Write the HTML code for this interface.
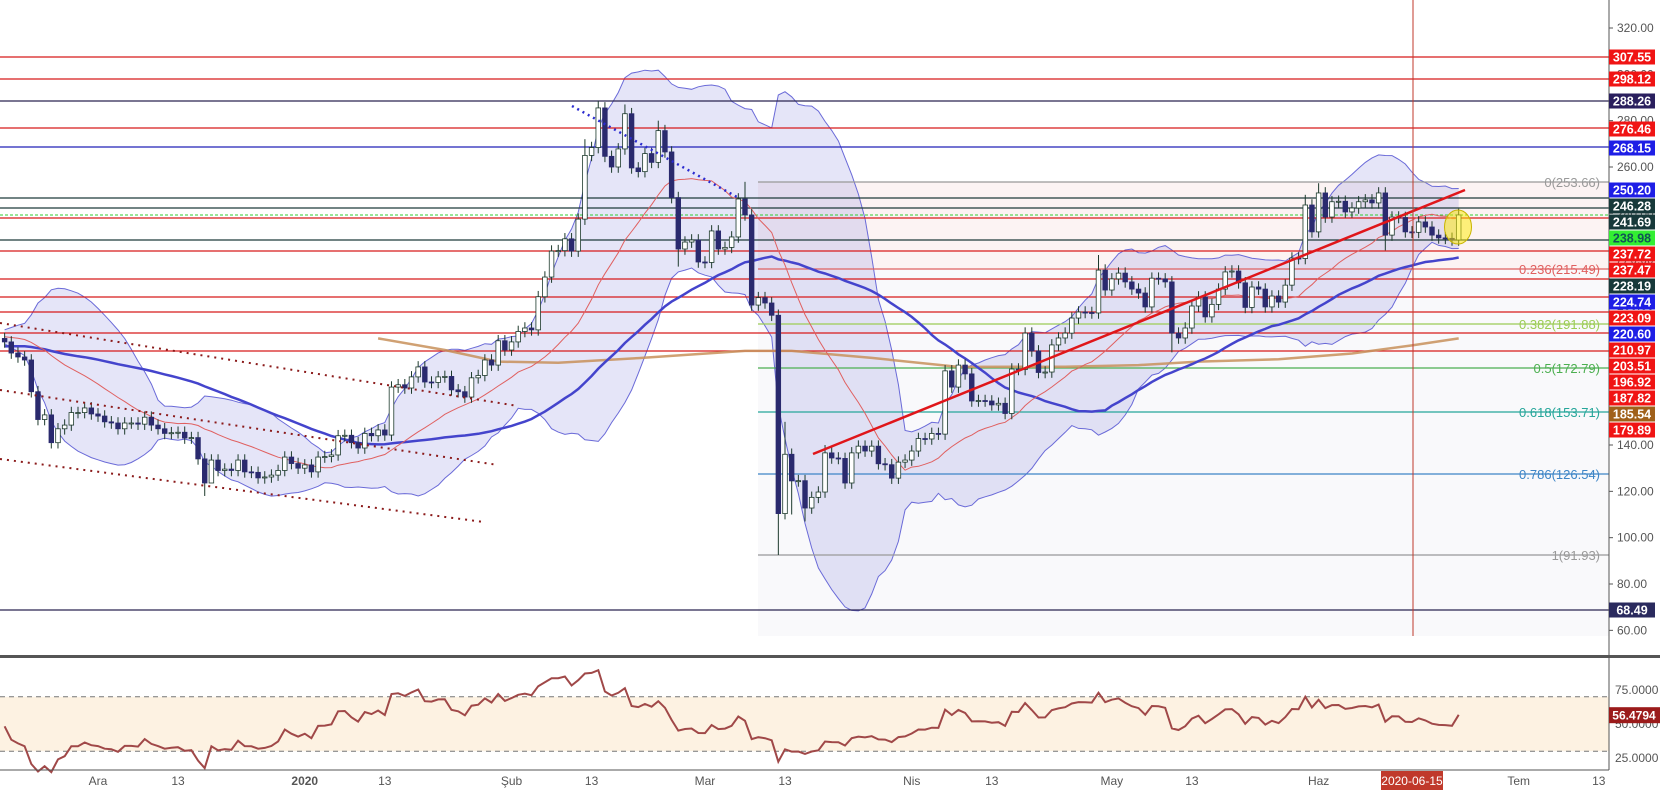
<!DOCTYPE html>
<html><head><meta charset="utf-8">
<style>
html,body{margin:0;padding:0;background:#fff;}
svg{display:block;font-family:"Liberation Sans",sans-serif;}
</style></head>
<body>
<svg id="chart" width="1660" height="790" viewBox="0 0 1660 790" xmlns="http://www.w3.org/2000/svg">
<rect x="0" y="0" width="1660" height="790" fill="#fff"/>
<g id="fibBg">
  <rect x="758" y="182" width="851" height="87" fill="#fbeeee" opacity="0.7"/>
  <rect x="758" y="269" width="851" height="367" fill="#f6f6fa" opacity="0.7"/>
</g>
<g id="bands"></g>
<g id="hlines"></g>
<g id="fib"></g>
<g id="mas"></g>
<g id="candles"></g>
<g id="drawings"></g>
<g id="rsi"></g>
<g id="axes"></g>
</svg>
<script>
// ---- data ----
const preCloses = [176,177,175,178,179,177,176,178,180,181,179,178,177,179,180,182,181,180,178,177,179,181,182,183,181,180,182,184,183,182,184,186,185,187,188,186,185,187,189,188,186,185,187,188,190,189,187,186,185,186];
const firstDay = -14;
const closes = [184.5,179.7,178,176.7,163,151,153,141,147,148.6,154,154,156,153.4,
152.5,150,149.5,147,149.5,149.5,149,152,148.6,147,145,145.3,145.5,143,143.2,134,123.6,133.5,129,129.6,129,133.5,128.4,128.2,125.8,126.2,127,129,134.8,132,130,
131.4,128.4,134.8,135,135.7,144,144.2,141,138.7,145,144,146.5,144.3,165,166,164.6,169.4,173.7,167.2,167,169.4,169.6,163.8,163,160.7,169,170,176.7,174.5,185,181,
184.5,189,190.5,189.7,204,212.5,223.7,223.9,229,223.7,237.5,265,268.4,285.5,264.6,260,267.8,283,259.6,258,265.8,262,275.7,266.5,246.8,224.6,227.6,228.5,219,
218.8,232.4,224.6,225.3,229.8,246.2,239.3,200.4,203.6,201.3,196,110.4,136,124.5,124.6,112.8,117.4,119.7,136.6,134.4,134.2,123.6,136.6,139.5,137.4,139.5,131.9,131.5,125.7,132.6,133.5,
137.4,142.8,142.6,145,144.7,172,165,174.5,170.7,159,159.2,159,157.3,158,153.6,172.8,172.6,188.3,180.6,171.3,171.5,183.2,186.2,188.3,194.8,197.4,197.2,197,215.5,206.9,211.7,214.2,210.4,207.3,205.6,
199.6,212,211.7,210.4,188.3,186.2,190.5,200,203.9,195.3,200.7,207.3,214.7,215.1,210,199.4,208.2,207.3,199.6,204.3,201.7,209,220.7,220.5,243.6,232,
248.8,238.4,245,245.2,240.6,242.3,245,245.8,244.5,248.8,230.6,238.4,238.2,232,231.8,236.3,234.1,230.6,229.4,229.2,228.5,239.3];
const wickHigh = {75:288.5,73:272,79:287,97:253.6,84:280,103:150,109:140,150:222,183:253,181:248,204:242};
const wickLow = {102:92.5,104:110,16:118,17:124,106:107,161:180,87:217,193:224};
const maLongDays = [42,52,60,69,81,97,104,116,129,145,156,165,177,188,197,204];
const maLongVals = [186,181,176,175.5,177.5,180.6,180.6,177.6,173.7,173.8,174.5,176,177,179.5,183,186];
const priceTicks = [320,300,280,260,240,220,200,180,160,140,120,100,80,60];
const rsiTicks = [75,50,25];
const timeLabelDays = [0,12,31,43,62,74,91,103,122,134,152,164,183,197,213,225];
const timeLabels = ["Ara","13","2020","13","Şub","13","Mar","13","Nis","13","May","13","Haz","2020-06-15","Tem","13"];
const levelYs = [57,79,101,128,147,198,208,218,240,251,279,297,312,333,351,610];
const levelColors = ["#d81b1b","#d81b1b","#2a2550","#d81b1b","#2020b8","#1e3a3a","#1e3a3a","#d81b1b","#1e3a3a","#d81b1b","#d81b1b","#d81b1b","#d81b1b","#d81b1b","#d81b1b","#2a2550"];
const tagLabels = ["307.55","298.12","288.26","276.46","268.15","250.20","246.28","241.69","238.98","237.72","237.47","228.19","224.74","223.09","220.60","210.97","203.51","196.92","187.82","185.54","179.89","68.49"];
const tagYs = [57,79,101,129,148,190,206,222,238,254,270,286,302,318,334,350,366,382,398,414,430,610];
const tagColors = ["#f01414","#f01414","#2a1f5e","#f01414","#1e1ee6","#1e1ee6","#17393a","#17393a","#33ee33","#f01414","#f01414","#17393a","#1e1ee6","#f01414","#1e1ee6","#f01414","#f01414","#f01414","#f01414","#a0601a","#f01414","#2a2a5e"];
const fibLevels = ["0","0.236","0.382","0.5","0.618","0.786","1"];
const fibPrices = [253.66,215.49,191.88,172.79,153.71,126.54,91.93];
const fibYs = [182,269,324,368,412,474,555];
const fibColors = ["#999","#e06060","#9ccc55","#4caf50","#26a69a","#3d85c6","#999"];

// ---- scales ----
const NS="http://www.w3.org/2000/svg";
const xOf = d => 98 + d*6.67;
const yOf = p => 28 + (320-p)*2.3167;
const rsiY = v => 690 + (75-v)*1.36;
function el(tag, attrs, parent){const e=document.createElementNS(NS,tag);for(const k in attrs)e.setAttribute(k,attrs[k]);parent.appendChild(e);return e;}
const all = preCloses.concat(closes);
const off = preCloses.length;

// ---- indicators ----
function sma(i,n){let s=0;for(let k=i-n+1;k<=i;k++)s+=all[k];return s/n;}
function sd(i,n,m){let s=0;for(let k=i-n+1;k<=i;k++)s+=(all[k]-m)*(all[k]-m);return Math.sqrt(s/n);}
let up=[],lo=[],mid=[],ma50=[];
for(let j=0;j<closes.length;j++){const i=j+off;const m=sma(i,20);const s=sd(i,20,m);mid.push(m);up.push(m+2*s);lo.push(m-2*s);ma50.push(sma(i,Math.min(50,i+1)));}
const pts = a => a.map((v,j)=>xOf(j+firstDay).toFixed(1)+","+yOf(v).toFixed(1));
const bands=document.getElementById('bands');
const bandPoly=el('polygon',{points:pts(up).concat(pts(lo).reverse()).join(' '),fill:"rgba(110,110,215,0.18)",stroke:"none"},bands);


const bu=el('polyline',{points:pts(up).join(' '),fill:"none",stroke:"#6a6ad8","stroke-width":1},bands);


const bl=el('polyline',{points:pts(lo).join(' '),fill:"none",stroke:"#6a6ad8","stroke-width":1},bands);



// horizontal levels
const hl=document.getElementById('hlines');
levelYs.forEach((y,i)=>{const l=el('line',{x1:0,x2:1609,y1:y,y2:y,stroke:levelColors[i],"stroke-width":1.3},hl);

});
const cur=el('line',{x1:0,x2:1609,y1:215,y2:215,stroke:"#3c3","stroke-width":1,"stroke-dasharray":"3 2"},hl);



// fib
const fib=document.getElementById('fib');
fibLevels.forEach((lv,i)=>{const y=fibYs[i];
const l=el('line',{x1:758,x2:1609,y1:y,y2:y,stroke:fibColors[i],"stroke-width":1.2},fib);


const t=el('text',{x:1600,y:y+5,"text-anchor":"end","font-size":13,fill:fibColors[i]},fib);t.textContent=lv+"("+fibPrices[i].toFixed(2)+")";

});

// MAs
const mas=document.getElementById('mas');
const longPts=maLongDays.map((d,i)=>xOf(d).toFixed(1)+","+yOf(maLongVals[i]).toFixed(1)).join(' ');
const m200=el('polyline',{points:longPts,fill:"none",stroke:"#c8905a","stroke-width":2.5,opacity:0.85},mas);


const m50=el('polyline',{points:pts(ma50).join(' '),fill:"none",stroke:"#4444cc","stroke-width":2.5},mas);


const m20=el('polyline',{points:pts(mid).join(' '),fill:"none",stroke:"#e06060","stroke-width":1},mas);



// candles
const cg=document.getElementById('candles');
closes.forEach((c,j)=>{const o=all[j+off-1];const d=j+firstDay;const x=xOf(d);
const bull=c>=o;const hi=wickHigh[d]!==undefined?wickHigh[d]:Math.max(o,c)+2.5;const lw=wickLow[d]!==undefined?wickLow[d]:Math.min(o,c)-2.5;
const g=el('g',{},cg);


el('line',{x1:x,x2:x,y1:yOf(hi),y2:yOf(lw),stroke:"#1d3a2c","stroke-width":1},g);
const yt=yOf(Math.max(o,c)),yb=yOf(Math.min(o,c));
el('rect',{x:x-2.3,y:yt,width:4.6,height:Math.max(1,yb-yt),fill:bull?"#fff":"#2a2a6e",stroke:bull?"#1d3a2c":"#2a2a6e","stroke-width":0.8},g);});

// drawings
const dr=document.getElementById('drawings');
const drawLines=[[813,454,1465,190,"#e0161a",2.5,"","trend-line"],[572,106,737,197,"#2b2bd0",2.5,"2 4","blue-dotted-trend"],
[0,323,518,406,"#8b1a1a",2,"2 5","channel-upper"],[0,390,498,465,"#8b1a1a",2,"2 5","channel-middle"],[0,459,484,522,"#8b1a1a",2,"2 5","channel-lower"]];
drawLines.forEach(a=>{const l=el('line',{x1:a[0],y1:a[1],x2:a[2],y2:a[3],stroke:a[4],"stroke-width":a[5],"stroke-dasharray":a[6]},dr);

});
const vl=el('line',{x1:1413,x2:1413,y1:0,y2:636,stroke:"#c0392b","stroke-width":1},dr);


const ell=el('ellipse',{cx:1458,cy:227,rx:13.5,ry:17,fill:"rgba(255,235,0,0.5)",stroke:"#c8b400","stroke-width":1},dr);



// RSI
const rg=document.getElementById('rsi');
el('rect',{x:0,y:rsiY(70),width:1609,height:rsiY(30)-rsiY(70),fill:"#fdf2e2"},rg);
[70,30].forEach(v=>{const l=el('line',{x1:0,x2:1609,y1:rsiY(v),y2:rsiY(v),stroke:"#777","stroke-width":1,"stroke-dasharray":"5 4"},rg);

});
let ag=0,al=0,rsi=[];
for(let i=1;i<all.length;i++){const ch=all[i]-all[i-1];const g=Math.max(ch,0),l=Math.max(-ch,0);
if(i<=14){ag+=g/14;al+=l/14;}else{ag=(ag*13+g)/14;al=(al*13+l)/14;}
if(i>=off)rsi.push(100-100/(1+ag/Math.max(al,1e-6)));}
const rl=el('polyline',{points:rsi.map((v,j)=>xOf(j+firstDay).toFixed(1)+","+rsiY(v).toFixed(1)).join(' '),fill:"none",stroke:"#a04848","stroke-width":2},rg);



// axes
const ax=document.getElementById('axes');
el('rect',{x:0,y:655,width:1660,height:3,fill:"#555"},ax);
el('line',{x1:1609,x2:1609,y1:0,y2:770,stroke:"#555","stroke-width":1},ax);
el('line',{x1:0,x2:1609,y1:770,y2:770,stroke:"#555","stroke-width":1},ax);
priceTicks.forEach(p=>{const y=yOf(p);el('line',{x1:1609,x2:1613,y1:y,y2:y,stroke:"#555"},ax);
const t=el('text',{x:1617,y:y+4,"font-size":12,fill:"#555"},ax);t.textContent=p.toFixed(2);

});
rsiTicks.forEach(v=>{const y=rsiY(v);const t=el('text',{x:1615,y:y+4,"font-size":12,fill:"#555"},ax);t.textContent=v.toFixed(4);

});
tagLabels.forEach((s,i)=>{const y=tagYs[i];const g=el('g',{},ax);


el('rect',{x:1609,y:y-7.5,width:46,height:15,fill:tagColors[i]},g);
const t=el('text',{x:1632,y:y+4.5,"text-anchor":"middle","font-size":12.5,"font-weight":"bold",fill:tagColors[i]==="#33ee33"?"#155":"#fff"},g);t.textContent=s;});
const rt=el('g',{},ax);


el('rect',{x:1609,y:rsiY(56.48)-8,width:51,height:16,fill:"#9b1b1b"},rt);
const rtt=el('text',{x:1634,y:rsiY(56.48)+4.5,"text-anchor":"middle","font-size":12,"font-weight":"bold",fill:"#fff"},rt);rtt.textContent="56.4794";
timeLabels.forEach((s,i)=>{const x=xOf(timeLabelDays[i]);
if(s==="2020-06-15"){el('rect',{x:x-31,y:771,width:62,height:19,fill:"#c0392b"},ax);}
const t=el('text',{x:x,y:785,"text-anchor":"middle","font-size":12,fill:s==="2020-06-15"?"#fff":"#555","font-weight":s==="2020"?"bold":"normal"},ax);t.textContent=s;

});
</script>
</body></html>
